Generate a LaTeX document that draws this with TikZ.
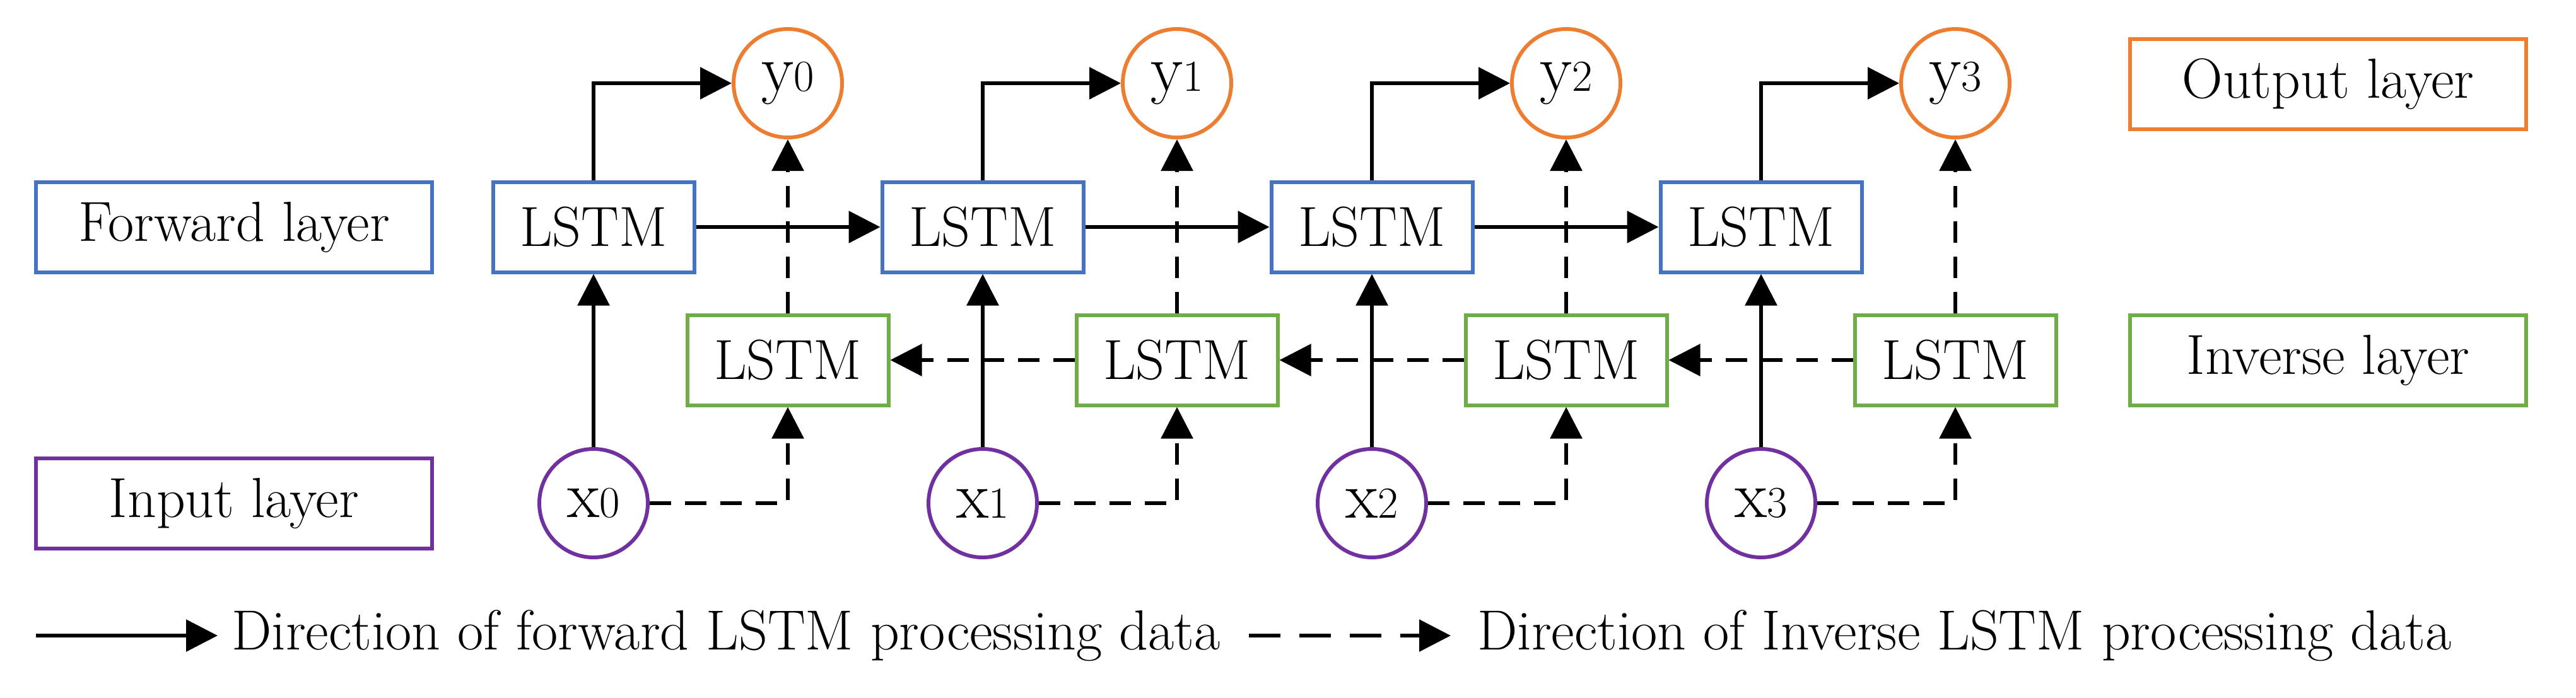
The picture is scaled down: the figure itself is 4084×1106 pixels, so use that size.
\documentclass[tikz,border=0pt]{standalone}
\usetikzlibrary{arrows.meta}
\definecolor{cb}{HTML}{4472C4}
\definecolor{co}{HTML}{ED7D31}
\definecolor{cg}{HTML}{70AD47}
\definecolor{cp}{HTML}{7030A0}
\newcommand{\mysub}[2]{{\fontsize{30}{30}\selectfont #1}{\fontsize{20}{20}\selectfont #2}}
\begin{document}
\begin{tikzpicture}[x=0.1mm,y=-0.1mm,
  every node/.style={font=\fontsize{25.5}{30}\selectfont},
  box/.style={draw,line width=1.7pt,minimum width=31.9mm,minimum height=14.3mm,inner sep=0pt},
  lab/.style={box,minimum width=62.8mm},
  circ/.style={draw,circle,line width=1.7pt,minimum size=17.2mm,inner sep=0pt},
  ar/.style={line width=1.7pt,-{Triangle[length=5mm,width=5mm]}},
  da/.style={ar,dash pattern=on 3.4mm off 2.2mm}]
\useasboundingbox (0,0) rectangle (4084,1106);
\node[lab,cb,text=black] (fl) at (371,360) {Forward layer};
\node[lab,co,text=black] (ol) at (3691,133) {Output layer};
\node[lab,cg,text=black] (il) at (3691,571) {Inverse layer};
\node[lab,cp,text=black] (inl) at (371,798) {Input layer};
\foreach \i/\fx in {0/941,1/1558,2/2175,3/2792}{
  \pgfmathsetmacro{\ix}{\fx+308}
  \node[box,cb,text=black] (f\i) at (\fx,360) {LSTM};
  \node[box,cg,text=black] (b\i) at (\ix,571) {LSTM};
  \node[circ,co,text=black] (y\i) at (\ix,132) {\mysub{y}{\i}};
  \node[circ,cp,text=black] (x\i) at (\fx,798) {\mysub{x}{\i}};
}
\foreach \i in {0,...,3}{
  \draw[ar] (f\i.north) |- (y\i.west);
  \draw[da] (b\i.north) -- (y\i.south);
  \draw[ar] (x\i.north) -- (f\i.south);
  \draw[da] (x\i.east) -| (b\i.south);
}
\foreach \i/\j in {0/1,1/2,2/3}{
  \draw[ar] (f\i.east) -- (f\j.west);
  \draw[da] (b\j.west) -- (b\i.east);
}
\coordinate (l1a) at (57,1008); \coordinate (l1b) at (345,1008);
\coordinate (l2a) at (1980,1008); \coordinate (l2b) at (2300,1008);
\draw[ar] (l1a) -- (l1b);
\node[anchor=west] (t1) at (355,1008) {Direction of forward LSTM processing data};
\draw[ar,dash pattern=on 5mm off 3mm] (l2a) -- (l2b);
\node[anchor=west] (t2) at (2330,1008) {Direction of Inverse LSTM processing data};
\end{tikzpicture}
\end{document}
